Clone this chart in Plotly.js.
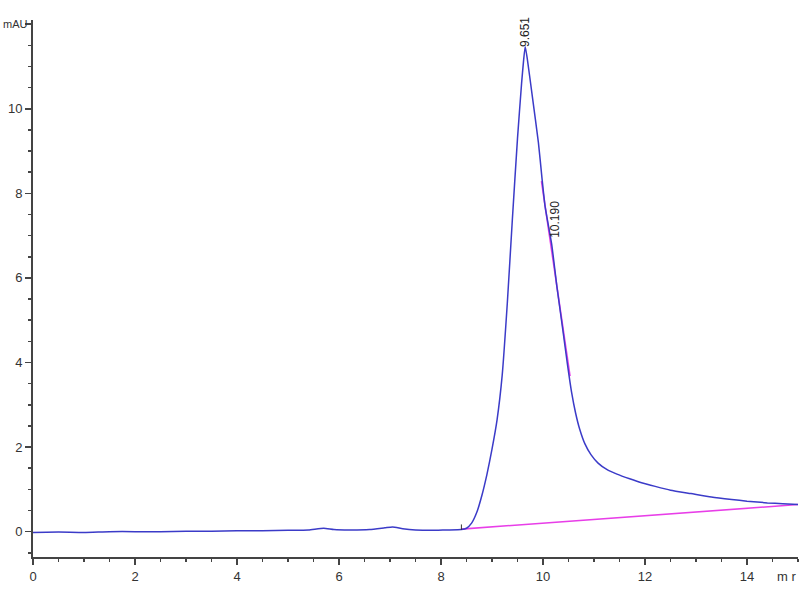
<!DOCTYPE html>
<html>
<head>
<meta charset="utf-8">
<script src="https://cdn.plot.ly/plotly-3.0.1.min.js"></script>
<style>html,body{margin:0;padding:0;background:#fff;}#chart{width:800px;height:600px;}</style>
</head>
<body>
<div id="chart"></div>
<script>
// Chromatogram signal (time in min, absorbance in mAU)
var signalTime = [0, 0.5, 1, 1.5, 2, 2.5, 3, 3.5, 4, 4.5, 5, 5.4, 5.7, 5.9, 6.2, 6.6, 6.9, 7.05, 7.25, 7.5, 7.8, 8.1, 8.4,
  8.5, 8.6, 8.7, 8.8, 8.9, 9.0, 9.1, 9.2, 9.3, 9.4, 9.5, 9.58, 9.62, 9.651,
  9.69, 9.79, 9.91, 9.98, 10.04, 10.17, 10.27, 10.38, 10.48, 10.56, 10.64, 10.72, 10.82, 10.94, 11.08, 11.25, 11.45, 11.7, 11.95,
  12.2, 12.5, 12.9, 13.3, 13.7, 14.0, 14.4, 14.7, 15.0];
var signalMAU = [-0.02, -0.01, -0.02, 0.0, 0.0, 0.0, 0.01, 0.01, 0.02, 0.02, 0.03, 0.04, 0.08, 0.05, 0.04, 0.05, 0.09, 0.11, 0.07, 0.04, 0.03, 0.04, 0.05,
  0.08, 0.2, 0.45, 0.85, 1.35, 1.95, 2.65, 3.7, 5.4, 7.4, 9.3, 10.6, 11.15, 11.47,
  11.2, 10.3, 9.2, 8.36, 7.7, 6.8, 5.82, 4.85, 3.95, 3.3, 2.8, 2.42, 2.08, 1.82, 1.62, 1.47, 1.36, 1.25, 1.15,
  1.07, 0.98, 0.90, 0.82, 0.76, 0.72, 0.68, 0.66, 0.64];

// Integration baseline (peak start -> peak end)
var baselineTime = [8.40, 15.0];
var baselineMAU = [0.06, 0.64];

// Tangent skim segment on the tail
var skimTime = [9.97, 10.53];
var skimMAU = [8.29, 3.68];

// Peak start marker
var startMarkTime = [8.40, 8.40];
var startMarkMAU = [0.04, 0.17];

// Peak retention time labels
var peakTimes = [9.651, 10.190];
var peakLabels = ['9.651', '10.190'];
var peakLabelMAU = [11.82, 7.39];
var peakLabelShift = [0, 2];

// Axis ticks
var xTickVals = [0, 2, 4, 6, 8, 10, 12, 14];
var xTickText = ['0', '2', '4', '6', '8', '10', '12', '14'];
var yTickVals = [0, 2, 4, 6, 8, 10, 12];
var yTickText = ['0', '2', '4', '6', '8', '10', ''];
var yUnit = 'mAU';
var yUnitAt = 12;
var xUnit = 'm r';

var tickFont = {family: 'Liberation Sans Narrow, Arial Narrow, Liberation Sans, Arial, sans-serif', size: 13, color: '#333'};

var traces = [
  {x: baselineTime, y: baselineMAU, mode: 'lines', line: {color: '#e83ee8', width: 1.6}, hoverinfo: 'skip'},
  {x: skimTime, y: skimMAU, mode: 'lines', line: {color: '#e83ee8', width: 1.6}, hoverinfo: 'skip'},
  {x: signalTime, y: signalMAU, mode: 'lines', line: {color: '#3b3bc8', width: 1.5, shape: 'spline', smoothing: 0.5}},
  {x: startMarkTime, y: startMarkMAU, mode: 'lines', line: {color: '#333', width: 1}, hoverinfo: 'skip'}
];

var annotations = peakTimes.map(function (t, i) {
  return {x: t, y: peakLabelMAU[i], xref: 'x', yref: 'y', text: peakLabels[i], showarrow: false,
    textangle: -90, xanchor: 'center', yanchor: 'middle', xshift: peakLabelShift[i],
    font: {family: 'Liberation Sans, Arial, sans-serif', size: 12, color: '#222'}};
});
annotations.push({x: 0, y: yUnitAt, xref: 'paper', yref: 'y', text: yUnit, showarrow: false,
  xanchor: 'left', yanchor: 'middle', xshift: -32,
  font: {family: tickFont.family, size: 11, color: '#333'}});
annotations.push({x: 1, y: 0, xref: 'paper', yref: 'paper', text: xUnit, showarrow: false,
  xanchor: 'right', yanchor: 'top', yshift: -10, font: tickFont});

var layout = {
  width: 800, height: 600,
  margin: {l: 33, r: 2, t: 20, b: 43},
  paper_bgcolor: '#fff', plot_bgcolor: '#fff',
  showlegend: false,
  xaxis: {range: [0, 15], showgrid: false, zeroline: false, showline: true, linecolor: '#444', linewidth: 2,
    ticks: 'outside', ticklen: 6, tickwidth: 1.5, tickcolor: '#444',
    tickvals: xTickVals, ticktext: xTickText, tickfont: tickFont,
    minor: {dtick: 0.5, tick0: 0, ticks: 'outside', ticklen: 3, tickwidth: 1.5, tickcolor: '#444'}},
  yaxis: {range: [-0.6, 12.1], showgrid: false, zeroline: false, showline: true, linecolor: '#444', linewidth: 2,
    ticks: 'outside', ticklen: 6, tickwidth: 1.5, tickcolor: '#444',
    tickvals: yTickVals, ticktext: yTickText, tickfont: tickFont,
    minor: {dtick: 0.5, tick0: 0, ticks: 'outside', ticklen: 3, tickwidth: 1.5, tickcolor: '#444'}},
  annotations: annotations
};

Plotly.newPlot('chart', traces, layout, {staticPlot: true, displayModeBar: false});
</script>
</body>
</html>
